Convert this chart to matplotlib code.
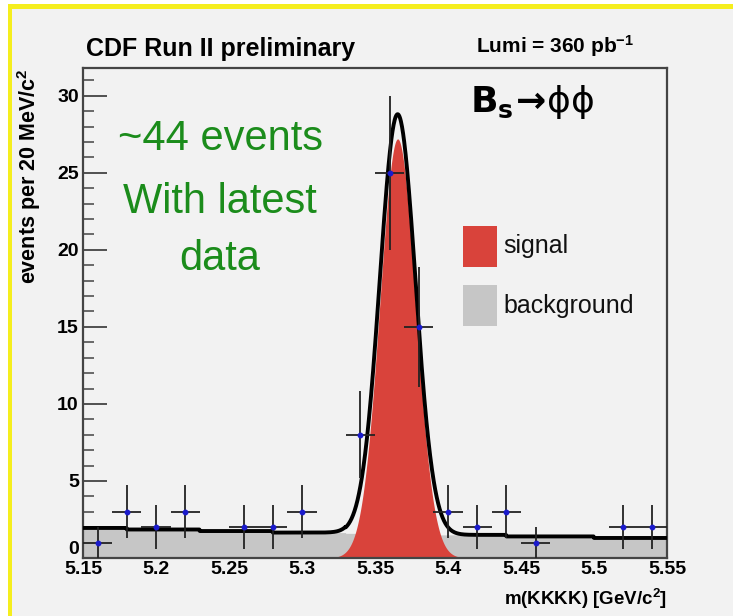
import numpy as np
import matplotlib
matplotlib.use("Agg")
import matplotlib.pyplot as plt
from matplotlib.patches import Rectangle

# measured points: bin centres [GeV/c^2] and events per 20 MeV bin (empty bins are not drawn)
mass = [5.16, 5.18, 5.20, 5.22, 5.26, 5.28, 5.30, 5.34, 5.36, 5.38,
        5.40, 5.42, 5.44, 5.46, 5.52, 5.54]
counts = [1, 3, 2, 3, 2, 2, 3, 8, 25, 15, 3, 2, 3, 1, 2, 2]
bin_half = 0.01

# background component
bkg_edges = [5.15, 5.18, 5.23, 5.28, 5.33, 5.38, 5.44, 5.50, 5.55]
bkg_levels = [1.95, 1.85, 1.75, 1.65, 1.60, 1.50, 1.40, 1.30]

# signal gaussian parameters
sig_mean = 5.3655
sig_sigma = 0.0122
sig_peak = 27.2

x_ticks = [5.15, 5.20, 5.25, 5.30, 5.35, 5.40, 5.45, 5.50, 5.55]
x_ticklabels = ["5.15", "5.2", "5.25", "5.3", "5.35", "5.4", "5.45", "5.5", "5.55"]

RED = "#d9433b"
GREY = "#c6c6c6"
GREEN = "#1b8c1b"
PANEL = "#f2f2f2"

W, H = 733, 616
plt.rcParams["font.family"] = ["Liberation Sans", "DejaVu Sans"]
plt.rcParams["mathtext.fontset"] = "custom"
plt.rcParams["mathtext.rm"] = "Liberation Sans:bold"
plt.rcParams["mathtext.bf"] = "Liberation Sans:bold"
plt.rcParams["mathtext.default"] = "bf"


def fx(px):
    return px / W


def fy(py):
    return 1 - py / H


fig = plt.figure(figsize=(W / 100, H / 100), dpi=100, facecolor="white")
# yellow slide frame (top and left) + light panel
fig.patches.append(Rectangle((fx(8), 0), 1 - fx(8), fy(4), transform=fig.transFigure,
                             facecolor="#f5ee1e", edgecolor="none", zorder=-10))
fig.patches.append(Rectangle((fx(12), 0), 1 - fx(12), fy(9),
                             transform=fig.transFigure, facecolor=PANEL,
                             edgecolor="none", zorder=-9))

ax = fig.add_axes([fx(83), fy(558), fx(667) - fx(83), fy(68) - fy(558)])
ax.set_facecolor(PANEL)
ax.set_axisbelow(True)

xs = np.linspace(5.15, 5.55, 1601)
idx = np.clip(np.searchsorted(bkg_edges, xs, side="right") - 1, 0, len(bkg_levels) - 1)
bkg = np.array(bkg_levels)[idx]
sig = sig_peak * np.exp(-0.5 * ((xs - sig_mean) / sig_sigma) ** 2)

ax.fill_between(xs, 0, bkg, color=GREY, lw=0, zorder=1)
ax.fill_between(xs, 0, sig, where=sig > 0.03, color=RED, lw=0, zorder=2)
ax.plot(xs, bkg + sig, color="black", lw=2.8, zorder=3)

err = np.sqrt(counts)
ax.errorbar(mass, counts, xerr=bin_half, yerr=err, fmt="o", ms=3.2,
            mfc="#1a1acc", mec="#1a1acc", ecolor="#222222", elinewidth=1.3,
            capsize=0, zorder=4)

ax.set_xlim(5.15, 5.55)
ax.set_ylim(0, 31.8)
ax.set_xticks(x_ticks)
ax.set_xticklabels(x_ticklabels)
ax.set_yticks(range(0, 31, 5))
ax.set_yticks(range(0, 32), minor=True)
ax.tick_params(axis="y", which="major", direction="in", length=17, width=1.3,
               color="#444444", pad=3)
ax.tick_params(axis="y", which="minor", direction="in", length=8, width=1.1,
               color="#444444")
ax.tick_params(axis="x", which="major", direction="in", length=8, width=1.1,
               color="#444444", pad=2)
for lab in ax.get_xticklabels() + ax.get_yticklabels():
    lab.set_fontweight("bold")
    lab.set_fontsize(14)
ax.get_yticklabels()[0].set_va("bottom")
for s in ax.spines.values():
    s.set_color("#444444")
    s.set_linewidth(1.6)

ax.set_ylabel("events per 20 MeV/c$^2$", loc="top", fontsize=15.5, fontweight="bold")
ax.yaxis.set_label_coords(-0.068, 1.0)
ax.set_xlabel("m(KKKK) [GeV/c$^2$]", loc="right", fontsize=13.5, fontweight="bold")
ax.xaxis.set_label_coords(1.0, -0.058)

fig.text(fx(86), fy(56), "CDF Run II preliminary", fontsize=18, fontweight="bold",
         ha="left", va="baseline")
fig.text(fx(634), fy(53), "Lumi = 360 pb$^{-1}$", fontsize=15, fontweight="bold",
         ha="right", va="baseline")
fig.text(fx(470), fy(112), r"$\mathbf{B_s}\!\rightarrow\!\mathrm{\phi\phi}$",
         fontsize=26, ha="left", va="baseline", math_fontfamily="dejavusans")

# legend
for (top, bot), col, label in [((226, 267), RED, "signal"), ((285, 326), GREY, "background")]:
    fig.patches.append(Rectangle((fx(463), fy(bot)), fx(497) - fx(463), fy(top) - fy(bot),
                                 transform=fig.transFigure, facecolor=col,
                                 edgecolor="none", zorder=5))
    fig.text(fx(503), fy((top + bot) / 2), label, fontsize=18, ha="left",
             va="center", color="#111111")

# annotation
for line, base in [("~44 events", 150), ("With latest", 213), ("data", 270)]:
    fig.text(fx(220), fy(base), line, fontsize=30, color=GREEN, ha="center",
             va="baseline")

fig.savefig("out.png", dpi=100, facecolor=fig.get_facecolor())
